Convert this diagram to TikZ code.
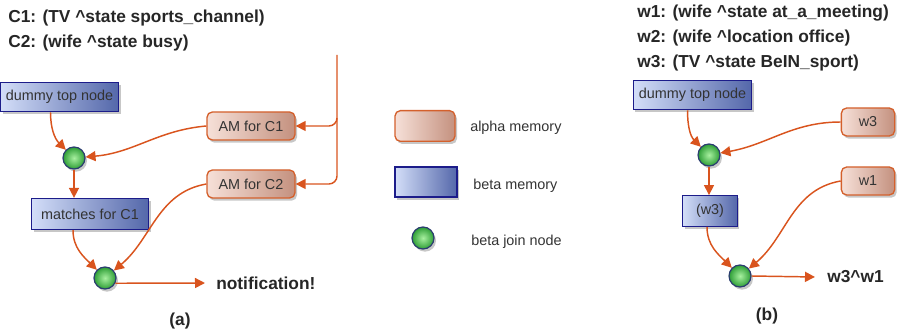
\documentclass[tikz,border=0pt]{standalone}
\usepackage{fontspec}
\setmainfont{Liberation Sans}
\usetikzlibrary{arrows.meta,calc,shadows}

\definecolor{edgeorange}{HTML}{D9541E}
\definecolor{alphaleft}{HTML}{F6E0D8}
\definecolor{alpharight}{HTML}{C4917F}
\definecolor{alphaborder}{HTML}{D4602C}
\definecolor{betaleft}{HTML}{D3DEF8}
\definecolor{betaright}{HTML}{5467AA}
\definecolor{betaborder}{HTML}{1C1C8A}
\definecolor{joininner}{HTML}{A8F0A0}
\definecolor{joinouter}{HTML}{2E9E36}
\definecolor{joinborder}{HTML}{2B3D70}
\definecolor{labelgray}{HTML}{333333}

\begin{document}
\begin{tikzpicture}[x=0.75pt,y=0.75pt]
  \def\FEEDX{337}
  \def\FEEDTOP{-55}
  \def\BOXFONT{\fontsize{10.8}{13}\selectfont}
  \def\BOLDFONT{\bfseries\fontsize{13}{15}\selectfont}

  \tikzset{
      boxshadow/.style={drop shadow={shadow xshift=1.5pt,shadow yshift=-2pt,
        opacity=0.22,fill=black}},
      amem/.style={draw=alphaborder,line width=1pt,rounded corners=4pt,
        left color=alphaleft,right color=alpharight,inner sep=0pt,
        minimum width=66pt,minimum height=21pt,text=labelgray,font=\BOXFONT,
        boxshadow},
      bmem/.style={draw=betaborder,line width=0.9pt,
        left color=betaleft,right color=betaright,inner sep=0pt,
        minimum width=88.5pt,minimum height=22pt,text=labelgray,font=\BOXFONT,
        boxshadow},
      bjoin/.style={circle,draw=joinborder,line width=0.9pt,inner sep=0pt,
        inner color=joininner,outer color=joinouter,minimum size=16.5pt,
        boxshadow},
      flow/.style={draw=edgeorange,line width=1.1pt,
        -{Triangle[length=7.5pt,width=7.5pt]}},
      cond/.style={anchor=west,inner sep=0pt,text=black!85,font=\BOLDFONT},
      legtext/.style={anchor=west,inner sep=0pt,text=labelgray,font=\BOXFONT},
  }

  \useasboundingbox (0,0) rectangle (898,-331);

  % (a)
  \node [cond] (c1) at (8,-18) {C1: (TV \^{}state sports\_channel)};
  \node [cond] (c2) at (8,-43) {C2: (wife \^{}state busy)};

  \node [bmem] (dtA) at (59.5,-97) {dummy top node};
  \node [amem] (amC1) at (251,-126) {AM for C1};
  \node [amem] (amC2) at (251,-184) {AM for C2};
  \node [bjoin] (joinA1) at (74,-158) {};
  \node [bmem,minimum width=87.75pt,minimum height=23.25pt]
    (matchA) at (90,-214) {matches for C1};
  \node [bjoin] (joinA2) at (105,-278) {};
  \node [cond] (noteA) at (216,-283) {notification!};
  \node [font=\BOLDFONT,text=black!85] (capA) at (180,-321) {(a)};

  \coordinate (feedA) at (\FEEDX,\FEEDTOP);
  \draw [flow,rounded corners=6pt] (feedA) -- (feedA |- amC2.east)
    -- (amC2.east);
  \draw [flow,rounded corners=6pt] ($(feedA |- amC1.east)+(0,8)$)
    -- (feedA |- amC1.east) -- (amC1.east);

  \draw [flow] ($(dtA.south)+(-9,0)$) to[out=-90,in=135] (joinA1);
  \draw [flow] (amC1.west) to[out=185,in=5] (joinA1);
  \draw [flow] (joinA1) -- (joinA1 |- matchA.north);
  \draw [flow] ($(matchA.south)+(-17,0)$) to[out=-90,in=135] (joinA2);
  \draw [flow] (amC2.west) to[out=190,in=40] (joinA2);
  \draw [flow] (joinA2.-27) -- ($(noteA.west)+(-11,0)$);

  % legend
  \node [amem,minimum width=45pt,minimum height=23pt]
    (legAlpha) at (425,-126) {};
  \node [legtext] at (470,-128) {alpha memory};
  \node [bmem,minimum width=46.5pt,minimum height=22.5pt]
    (legBeta) at (426,-182) {};
  \node [legtext] at (473,-186) {beta memory};
  \node [bjoin] (legJoin) at (423,-238) {};
  \node [legtext] at (471,-242) {beta join node};

  % (b)
  \node [cond] (w1) at (637,-13) {w1: (wife \^{}state at\_a\_meeting)};
  \node [cond] (w2) at (637,-38) {w2: (wife \^{}location office)};
  \node [cond] (w3) at (637,-63) {w3: (TV \^{}state BeIN\_sport)};

  \node [bmem,minimum width=89pt] (dtB) at (692.5,-95) {dummy top node};
  \node [amem,minimum width=40pt] (amW3) at (868,-122) {w3};
  \node [amem,minimum width=40pt] (amW1) at (868,-181) {w1};
  \node [bjoin] (joinB1) at (709,-155) {};
  \node [bmem,minimum width=41pt,minimum height=23pt]
    (matchB) at (710,-211) {(w3)};
  \node [bjoin] (joinB2) at (740,-276) {};
  \node [cond] (resB) at (827,-277) {w3\^{}w1};
  \node [font=\BOLDFONT,text=black!85] (capB) at (767,-316) {(b)};

  \draw [flow] ($(dtB.south)+(-5,0)$) to[out=-90,in=135] (joinB1);
  \draw [flow] (amW3.west) to[out=180,in=10] (joinB1);
  \draw [flow] (joinB1) -- (joinB1 |- matchB.north);
  \draw [flow] ($(matchB.south)+(-3,0)$) to[out=-90,in=135] (joinB2);
  \draw [flow] (amW1.west) to[out=190,in=40] (joinB2);
  \draw [flow] (joinB2.east) -- ($(resB.west)+(-12,0)$);
\end{tikzpicture}
\end{document}
